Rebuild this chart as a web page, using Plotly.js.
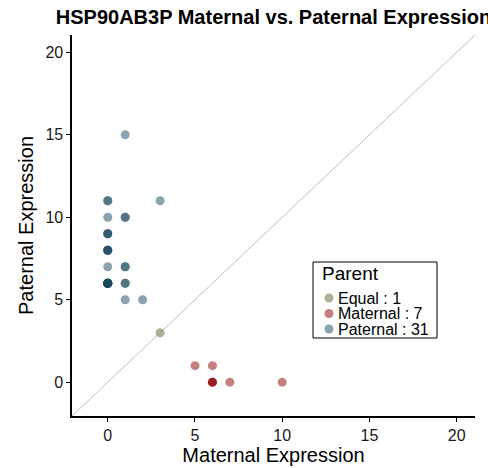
<!DOCTYPE html>
<html>
<head>
<meta charset="utf-8">
<script src="https://cdn.plot.ly/plotly-3.0.1.min.js"></script>
<style>
  html, body { margin: 0; padding: 0; background: #ffffff; }
  #chart { width: 488px; height: 468px; }
</style>
</head>
<body>
<div id="chart"></div>
<script>
// Allele expression counts per read group, split by which parent dominates
const equalMaternal = [3];
const equalPaternal = [3];

const maternalMaternal = [5, 6, 6, 6, 6, 7, 10];
const maternalPaternal = [1, 1, 0, 0, 0, 0, 0];

const paternalMaternal = [
  1,
  0, 0, 3,
  0, 1, 1,
  0, 0, 0,
  0, 0, 0, 0,
  0, 1, 1,
  0, 0, 0, 0, 0, 0, 0, 0, 0, 0, 1, 1,
  1, 2
];
const paternalPaternal = [
  15,
  11, 11, 11,
  10, 10, 10,
  9, 9, 9,
  8, 8, 8, 8,
  7, 7, 7,
  6, 6, 6, 6, 6, 6, 6, 6, 6, 6, 6, 6,
  5, 5
];

const groupNames = ['Equal', 'Maternal', 'Paternal'];
const groupColors = ['#556B2F', '#8B0000', '#15475F'];

const axisRange = [-2.05, 21.05];
const tickVals = [0, 5, 10, 15, 20];

const FONT = 'Liberation Sans, Arial, Helvetica, sans-serif';
const W = 488, H = 468;
const M = { l: 72, r: 13, t: 35, b: 52 };
const plotW = W - M.l - M.r, plotH = H - M.t - M.b;
// pixel -> paper helpers for the legend panel
const px = v => (v - M.l) / plotW;
const py = v => (H - M.b - v) / plotH;

const groups = [
  [equalMaternal, equalPaternal],
  [maternalMaternal, maternalPaternal],
  [paternalMaternal, paternalPaternal]
];

const traces = groups.map(([xs, ys], i) => ({
  type: 'scatter',
  mode: 'markers',
  name: groupNames[i] + ' : ' + xs.length,
  x: xs,
  y: ys,
  marker: { color: groupColors[i], size: 9, opacity: 0.5, line: { width: 0 } },
  hoverinfo: 'x+y+name',
  showlegend: false
}));

// Legend panel drawn as a boxed key
const legendBox = { x0: 313, x1: 437, y0: 262, y1: 338 };
const rowY = [298, 313.5, 329];
const legendShapes = [{
  type: 'rect', xref: 'paper', yref: 'paper',
  x0: px(legendBox.x0), x1: px(legendBox.x1),
  y0: py(legendBox.y1), y1: py(legendBox.y0),
  line: { color: '#000000', width: 1 },
  fillcolor: '#ffffff'
}];
const dotR = 4.5;
rowY.forEach((yy, i) => {
  legendShapes.push({
    type: 'circle', xref: 'paper', yref: 'paper',
    x0: px(329 - dotR), x1: px(329 + dotR),
    y0: py(yy + dotR), y1: py(yy - dotR),
    fillcolor: groupColors[i], opacity: 0.5,
    line: { width: 0 }
  });
});
const legendAnnotations = [{
  xref: 'paper', yref: 'paper',
  x: px(320), y: py(273),
  xanchor: 'left', yanchor: 'middle',
  text: 'Parent', showarrow: false,
  font: { family: FONT, size: 19, color: '#000000' }
}].concat(rowY.map((yy, i) => ({
  xref: 'paper', yref: 'paper',
  x: px(336), y: py(yy),
  xanchor: 'left', yanchor: 'middle',
  text: traces[i].name, showarrow: false,
  font: { family: FONT, size: 16, color: '#000000' }
})));

const axisCommon = {
  range: axisRange,
  tickvals: tickVals,
  ticks: 'outside',
  ticklen: 4,
  tickwidth: 1,
  tickcolor: '#000000',
  showline: true,
  linecolor: '#000000',
  linewidth: 1.6,
  showgrid: false,
  zeroline: false,
  tickfont: { family: FONT, size: 16, color: '#1a1a1a' }
};

const layout = {
  width: W,
  height: H,
  margin: M,
  paper_bgcolor: '#ffffff',
  plot_bgcolor: '#ffffff',
  font: { family: FONT, color: '#000000' },
  title: {
    text: '<b>HSP90AB3P Maternal vs. Paternal Expression</b>',
    font: { family: FONT, size: 20, color: '#000000' },
    xref: 'container',
    x: (M.l + plotW / 2) / W,
    xanchor: 'center',
    yref: 'container',
    y: 1 - 17 / H,
    yanchor: 'middle'
  },
  xaxis: Object.assign({}, axisCommon, {
    title: { text: 'Maternal Expression', font: { family: FONT, size: 20, color: '#000000' }, standoff: 2 }
  }),
  yaxis: Object.assign({}, axisCommon, {
    title: { text: 'Paternal Expression', font: { family: FONT, size: 20, color: '#000000' }, standoff: 6 }
  }),
  shapes: [{
    type: 'line',
    xref: 'x', yref: 'y',
    x0: axisRange[0], y0: axisRange[0],
    x1: axisRange[1], y1: axisRange[1],
    line: { color: '#bebebe', width: 1 },
    layer: 'below'
  }].concat(legendShapes),
  annotations: legendAnnotations,
  showlegend: false
};

Plotly.newPlot('chart', traces, layout, { displayModeBar: false, staticPlot: true });
</script>
</body>
</html>
